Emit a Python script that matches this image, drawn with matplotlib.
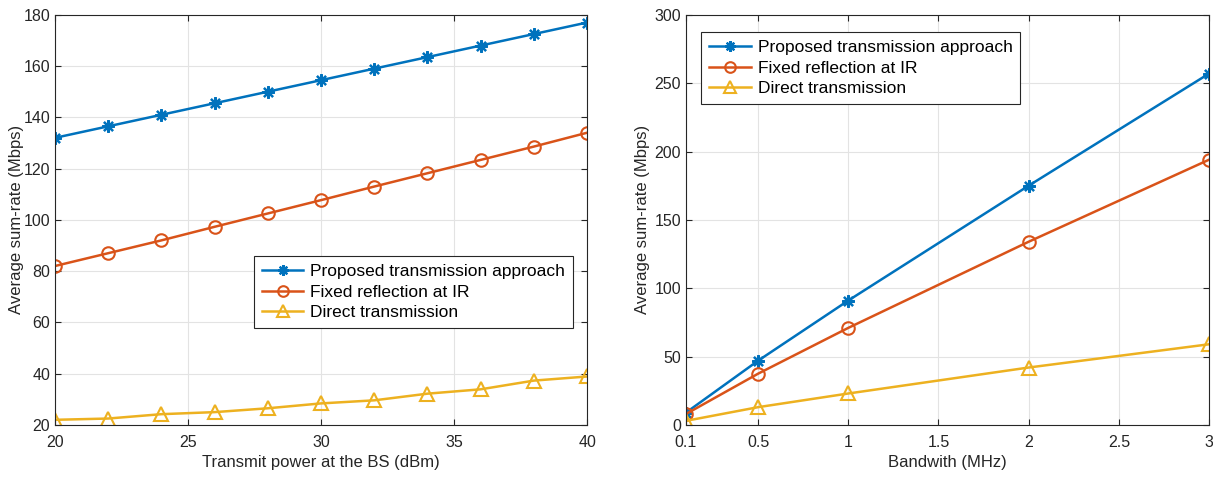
import numpy as np
import matplotlib
matplotlib.use("Agg")
import matplotlib.pyplot as plt

plt.rcParams["font.family"] = ["Liberation Sans", "DejaVu Sans"]

# ---------------------------------------------------------------------------
# Data
# ---------------------------------------------------------------------------
power_dbm = [20, 22, 24, 26, 28, 30, 32, 34, 36, 38, 40]
proposed_power = [132, 136.5, 141, 145.5, 150, 154.5, 159, 163.5, 168, 172.5, 177]
fixed_power = [82, 87, 92, 97.3, 102.5, 107.7, 113, 118.2, 123.4, 128.6, 134]
direct_power = [22, 22.5, 24.2, 25, 26.5, 28.4, 29.6, 32.2, 33.9, 37.3, 38.9]

bandwidth_mhz = [0.1, 0.5, 1, 2, 3]
proposed_bw = [9, 47, 91, 175, 257]
fixed_bw = [8, 37.5, 71, 134, 194]
direct_bw = [3, 13, 23, 42, 59]

labels = ["Proposed transmission approach", "Fixed reflection at IR", "Direct transmission"]

# MATLAB default colour order
c_blue, c_red, c_yellow = "#0072BD", "#D95319", "#EDB120"

fig = plt.figure(figsize=(12.13, 4.78), dpi=100)
ax1 = fig.add_axes([0.0453, 0.111, 0.4387, 0.858])
ax2 = fig.add_axes([0.5655, 0.111, 0.4312, 0.858])


def style_axes(ax):
    ax.grid(True, color="#e3e3e3", linewidth=0.8)
    ax.set_axisbelow(True)
    for s in ax.spines.values():
        s.set_color("#262626")
        s.set_linewidth(0.8)
    ax.tick_params(direction="in", length=4, top=True, right=True,
                   labelsize=11.5, colors="#262626", width=0.8)
    ax.tick_params(axis="x", pad=7)


def draw_series(ax, x, ys):
    # MATLAB-style asterisk: 8 spokes
    ax.plot(x, ys[0], color=c_blue, marker=(8, 2, 0), markersize=9, mew=1.6,
            lw=1.8, label=labels[0])
    ax.plot(x, ys[1], color=c_red, marker="o", markersize=9, mfc="none",
            mew=1.5, lw=1.8, label=labels[1])
    ax.plot(x, ys[2], color=c_yellow, marker="^", markersize=10, mfc="none",
            mew=1.5, lw=1.8, label=labels[2])


def add_legend(ax, anchor):
    leg = ax.legend(loc="upper left", bbox_to_anchor=anchor, fontsize=12.5,
                    fancybox=False, edgecolor="#262626", framealpha=1,
                    handlelength=2.4, borderpad=0.45, labelspacing=0.32,
                    handletextpad=0.4, borderaxespad=0, markerscale=0.85)
    leg.get_frame().set_linewidth(0.8)
    return leg


# ---------------------------------------------------------------------------
# Left panel: vs transmit power
# ---------------------------------------------------------------------------
draw_series(ax1, power_dbm, [proposed_power, fixed_power, direct_power])
ax1.set_xlim(20, 40)
ax1.set_ylim(20, 180)
ax1.set_xticks([20, 25, 30, 35, 40])
ax1.set_yticks(np.arange(20, 181, 20))
style_axes(ax1)
ax1.set_xlabel("Transmit power at the BS (dBm)", fontsize=12, color="#262626")
ax1.set_ylabel("Average sum-rate (Mbps)", fontsize=12, color="#262626")
ax1.yaxis.set_label_coords(-0.058, 0.5)
add_legend(ax1, (0.374, 0.412))

# ---------------------------------------------------------------------------
# Right panel: vs bandwidth
# ---------------------------------------------------------------------------
draw_series(ax2, bandwidth_mhz, [proposed_bw, fixed_bw, direct_bw])
ax2.set_xlim(0.1, 3)
ax2.set_ylim(0, 300)
ax2.set_xticks([0.1, 0.5, 1, 1.5, 2, 2.5, 3])
ax2.set_xticklabels(["0.1", "0.5", "1", "1.5", "2", "2.5", "3"])
ax2.set_yticks(np.arange(0, 301, 50))
style_axes(ax2)
ax2.set_xlabel("Bandwith (MHz)", fontsize=12, color="#262626")
ax2.set_ylabel("Average sum-rate (Mbps)", fontsize=12, color="#262626")
ax2.yaxis.set_label_coords(-0.069, 0.5)
add_legend(ax2, (0.029, 0.958))

fig.savefig("out.png", dpi=100)
